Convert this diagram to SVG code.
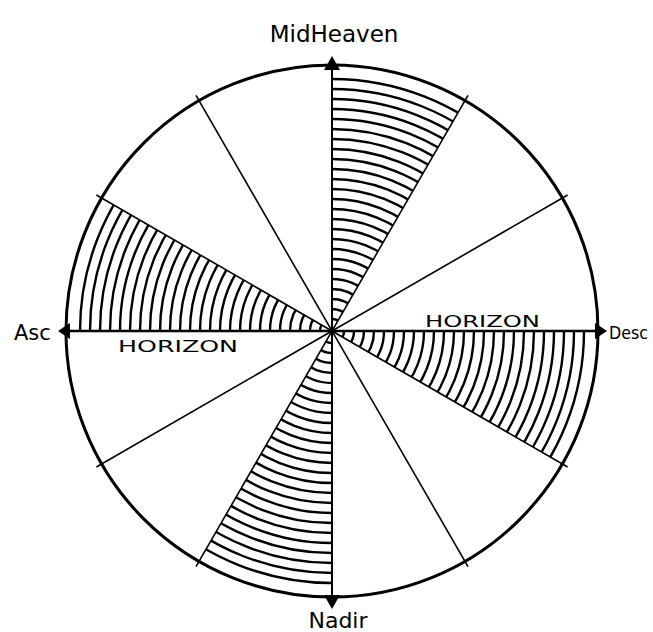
<svg xmlns="http://www.w3.org/2000/svg" width="653" height="632" viewBox="0 0 653 632">
<style>
.rim{fill:none;stroke:#000;stroke-width:3}
.ray{stroke:#000;stroke-width:1.6;fill:none}
.hatch circle{fill:none;stroke:#000;stroke-width:2.4}
.tri{fill:#000}
.lbl{font-family:"DejaVu Sans",sans-serif;fill:#000}
.hz{font-family:"DejaVu Sans",sans-serif;font-size:15px;fill:#000}
</style>
<defs>
<clipPath id="shade">
<path d="M332,331 L332,65 A266,266 0 0 1 465,100.6 Z M332,331 L598,331 A266,266 0 0 1 562.4,464 Z M332,331 L332,597 A266,266 0 0 1 199,561.4 Z M332,331 L66,331 A266,266 0 0 1 101.6,198 Z"/>
</clipPath>
</defs>
<rect width="653" height="632" fill="#fff"/>
<g id="hatching" class="hatch" clip-path="url(#shade)">
<circle cx="332" cy="331" r="12"/><circle cx="332" cy="331" r="22"/><circle cx="332" cy="331" r="32"/><circle cx="332" cy="331" r="42"/><circle cx="332" cy="331" r="52"/><circle cx="332" cy="331" r="62"/><circle cx="332" cy="331" r="72"/><circle cx="332" cy="331" r="82"/><circle cx="332" cy="331" r="92"/><circle cx="332" cy="331" r="102"/><circle cx="332" cy="331" r="112"/><circle cx="332" cy="331" r="122"/><circle cx="332" cy="331" r="132"/><circle cx="332" cy="331" r="142"/><circle cx="332" cy="331" r="152"/><circle cx="332" cy="331" r="162"/><circle cx="332" cy="331" r="172"/><circle cx="332" cy="331" r="182"/><circle cx="332" cy="331" r="192"/><circle cx="332" cy="331" r="202"/><circle cx="332" cy="331" r="212"/><circle cx="332" cy="331" r="222"/><circle cx="332" cy="331" r="232"/><circle cx="332" cy="331" r="242"/><circle cx="332" cy="331" r="252"/>
</g>
<g id="connectors">
<line class="ray" x1="332" y1="59" x2="332" y2="603" style="stroke-width:2"/>
<line class="ray" x1="60" y1="331" x2="604" y2="331" style="stroke-width:2.4"/>
<line class="ray" x1="468" y1="95.4" x2="196" y2="566.6"/>
<line class="ray" x1="567.6" y1="195" x2="96.4" y2="467"/>
<line class="ray" x1="567.6" y1="467" x2="96.4" y2="195"/>
<line class="ray" x1="468" y1="566.6" x2="196" y2="95.4"/>
</g>
<circle id="wheel" class="rim" cx="332" cy="331" r="266"/>
<g id="midheaven">
<path class="tri" d="M332,56 L340,70 L324,70 Z"/>
<text class="lbl" x="334" y="42" font-size="23" text-anchor="middle">MidHeaven</text>
</g>
<g id="nadir">
<path class="tri" d="M332,609 L340,595 L324,595 Z"/>
<text class="lbl" x="338" y="628" font-size="22" text-anchor="middle">Nadir</text>
</g>
<g id="asc">
<path class="tri" d="M58,331 L70,323 L70,339 Z"/>
<text class="lbl" x="14" y="340" font-size="21">Asc</text>
</g>
<g id="desc">
<path class="tri" d="M607,331 L595,323 L595,339 Z"/>
<text class="lbl" x="609" y="339" font-size="18" textLength="39" lengthAdjust="spacingAndGlyphs">Desc</text>
</g>
<g id="horizon-east">
<text class="hz" x="425" y="327" textLength="115" lengthAdjust="spacingAndGlyphs">HORIZON</text>
</g>
<g id="horizon-west">
<text class="hz" x="118" y="352" textLength="120" lengthAdjust="spacingAndGlyphs">HORIZON</text>
</g>
</svg>
